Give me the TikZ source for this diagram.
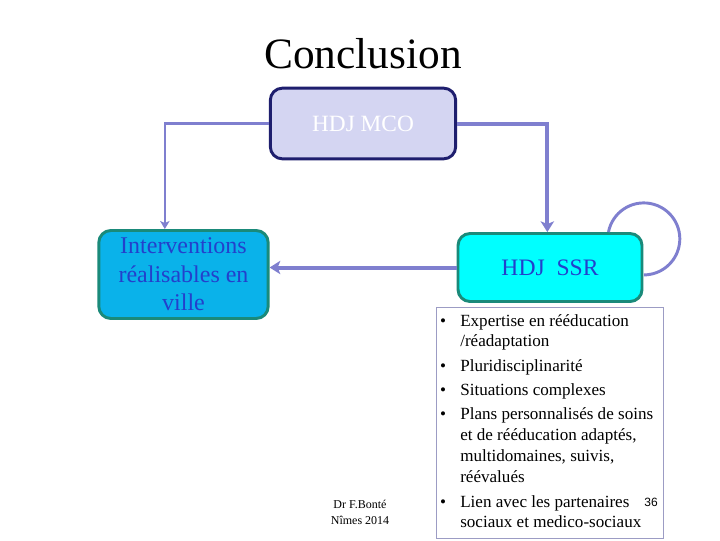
\documentclass[tikz,border=0pt]{standalone}
\usepackage{fontspec}
\setmainfont{Liberation Serif}
\newfontfamily\pagenumfont{Liberation Sans}
\usetikzlibrary{arrows.meta,calc}
\definecolor{linkcol}{HTML}{7F7FCF}
\definecolor{mcofill}{HTML}{D4D5F2}
\definecolor{mcoline}{HTML}{1E1E6E}
\definecolor{tealline}{HTML}{1A8A7A}
\definecolor{villefill}{HTML}{0AB2EA}
\definecolor{ssrfill}{HTML}{00FFFF}
\definecolor{bluetext}{HTML}{2340CC}
\definecolor{listline}{HTML}{9C9CC4}
\tikzset{
  boxbase/.style={rounded corners=9pt, line width=2.2pt, inner sep=0pt, align=center},
  mcobox/.style={boxbase, draw=mcoline, fill=mcofill, text=white,
    minimum width=139pt, minimum height=53pt, font=\fontsize{17.5pt}{21pt}\selectfont},
  villebox/.style={boxbase, draw=tealline, fill=villefill, text=bluetext,
    minimum width=127pt, minimum height=66pt, font=\fontsize{18pt}{21.4pt}\selectfont},
  ssrbox/.style={boxbase, draw=tealline, fill=ssrfill, text=bluetext,
    minimum width=138pt, minimum height=51pt, font=\fontsize{17.7pt}{21pt}\selectfont},
  thinlink/.style={draw=linkcol, line width=1.6pt, -{Stealth[length=6pt,width=7pt,inset=1.5pt]}},
  thicklink/.style={draw=linkcol, line width=3pt, -{Stealth[length=8pt,width=10pt,inset=2pt]}},
  loopline/.style={draw=linkcol, line width=2.2pt},
  listtext/.style={anchor=base west, inner sep=0pt, font=\fontsize{12.8pt}{15.5pt}\selectfont},
  bulletmark/.style={anchor=base, inner sep=0pt, font=\fontsize{12.8pt}{15.5pt}\selectfont},
  footer/.style={inner sep=0pt, font=\fontsize{9pt}{12.5pt}\selectfont, align=center}
}
\begin{document}
\begin{tikzpicture}[x=0.75pt,y=-0.75pt]
\useasboundingbox (0,0) rectangle (720,540);
\clip (0,0) rectangle (720,540);
\fill[white] (0,0) rectangle (720,540);

% title
\node[inner sep=0pt, font=\fontsize{32.5pt}{36pt}\selectfont] (title) at (363,54) {Conclusion};

% boxes
\node[mcobox] (mco) at (363,123.5) {HDJ MCO};
\node[villebox] (ville) at (183.5,274.5) {Interventions\\réalisables en\\ville};
\node[ssrbox] (ssr) at (550,267.5) {HDJ\ \ SSR};

% connectors
\draw[thinlink] (mco.west) -| ([xshift=-14pt]ville.north);
\draw[thicklink] (mco.east) -| ([xshift=-2pt]ssr.north);
\draw[thicklink] (ssr.west) -- (ssr.west -| ville.east);
\coordinate (loopstart) at ($(ssr.north east)+(-35,0)$);
\draw[loopline] (loopstart) arc[start angle=-169, end angle=90, radius=36];

% list box
\node[draw=listline, line width=1pt, inner sep=0pt, minimum width=170pt, minimum height=173pt, anchor=north west] (listbox) at (436,307) {};
\node[bulletmark] (b1) at (443,326) {•};
\node[listtext] (l1a) at (460,326) {Expertise en rééducation};
\node[listtext] (l1b) at (460,346.5) {/réadaptation};
\node[bulletmark] (b2) at (443,371) {•};
\node[listtext] (l2) at (460,371) {Pluridisciplinarité};
\node[bulletmark] (b3) at (443,395) {•};
\node[listtext] (l3) at (460,395) {Situations complexes};
\node[bulletmark] (b4) at (443,419) {•};
\node[listtext] (l4a) at (460,419) {Plans personnalisés de soins};
\node[listtext] (l4b) at (460,440) {et de rééducation adaptés,};
\node[listtext] (l4c) at (460,461) {multidomaines, suivis,};
\node[listtext] (l4d) at (460,482) {réévalués};
\node[bulletmark] (b5) at (443,507) {•};
\node[listtext] (l5a) at (460,507) {Lien avec les partenaires};
\node[listtext] (l5b) at (460,527.5) {sociaux et medico-sociaux};

% footer
\node[footer] (author) at (360,512.5) {Dr F.Bonté\\Nîmes 2014};
\node[inner sep=0pt, font=\pagenumfont\fontsize{9pt}{11pt}\selectfont] (pagenum) at (651,502) {36};
\end{tikzpicture}
\end{document}
